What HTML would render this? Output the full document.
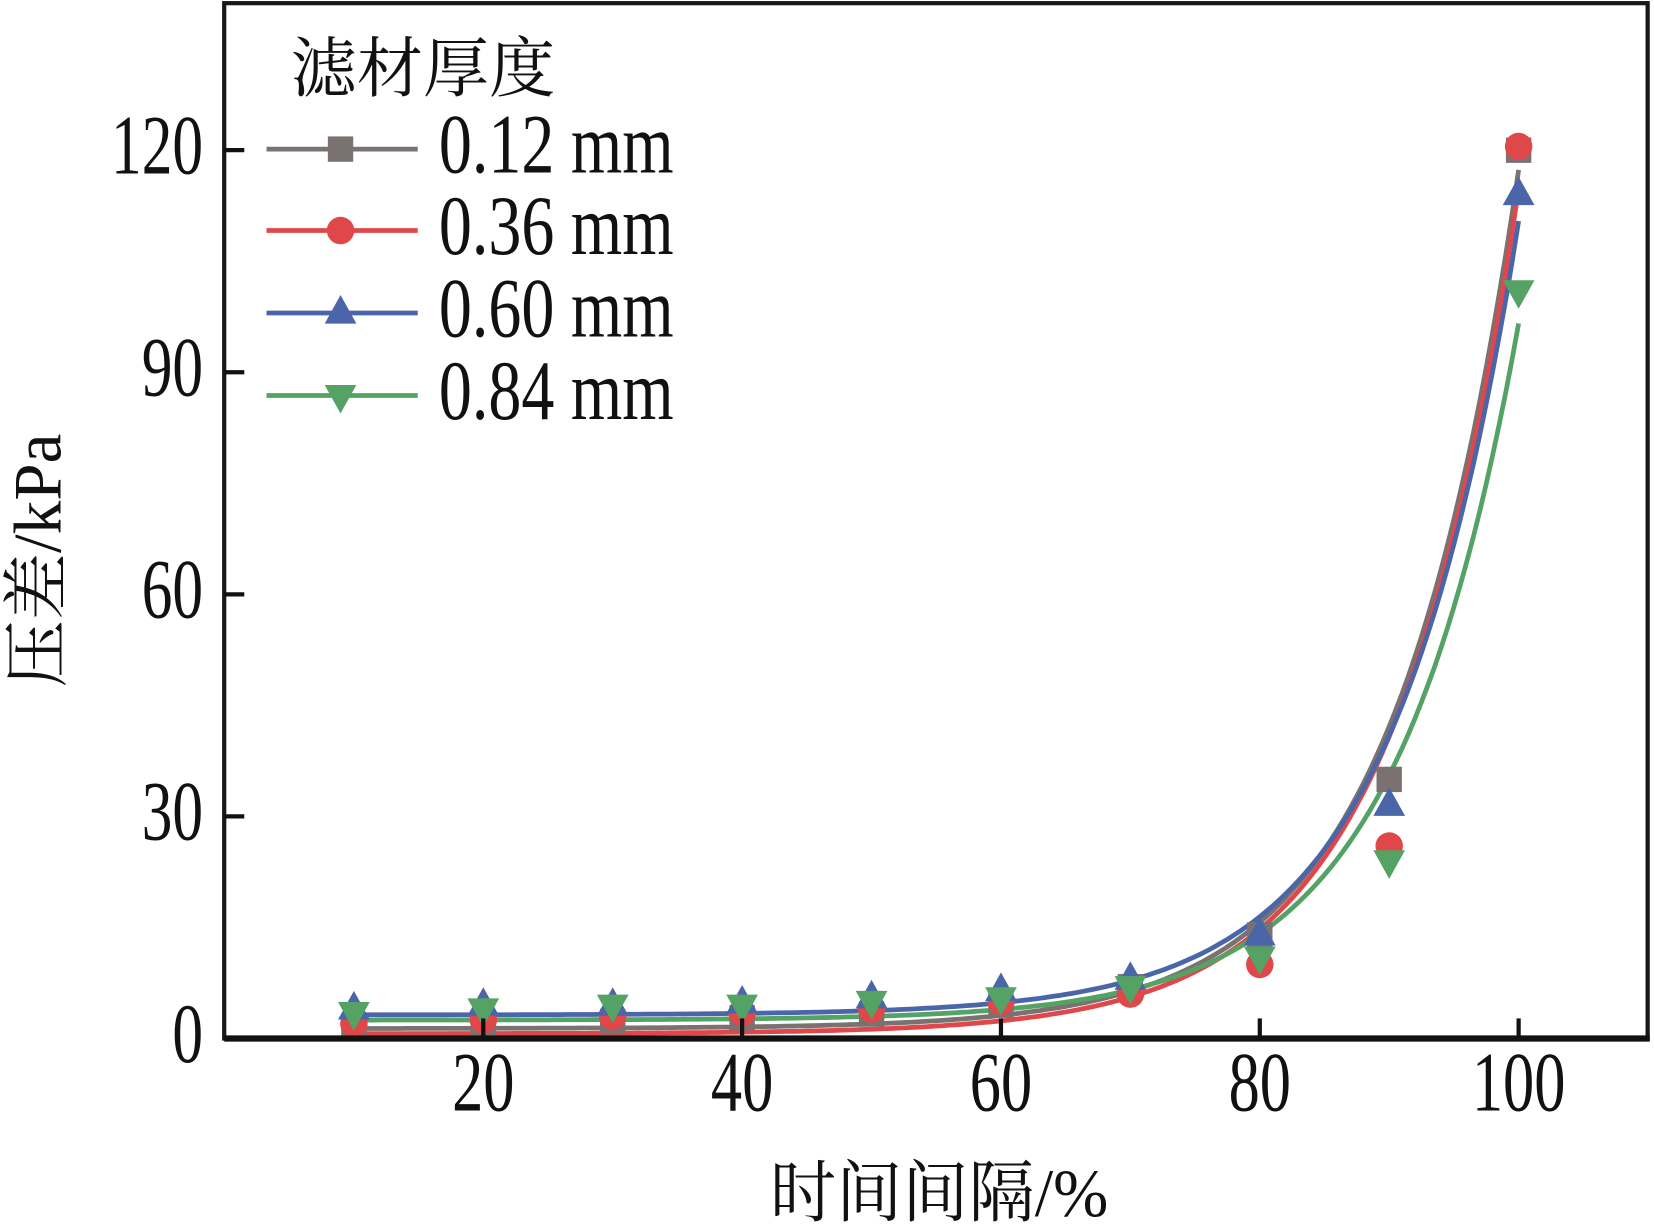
<!DOCTYPE html>
<html><head><meta charset="utf-8"><style>
html,body{margin:0;padding:0;background:#fff;}
svg{display:block;}
text{font-family:"Liberation Serif","Noto Serif CJK SC",serif;fill:#111;}
</style></head><body>
<svg id="chart" width="1654" height="1230" viewBox="0 0 1654 1230" xmlns="http://www.w3.org/2000/svg">
<g id="root" transform="scale(1.05754)"></g>
</svg>
<script>
const categories = [10, 20, 30, 40, 50, 60, 70, 80, 90, 100];
const seriesNames = ["0.12 mm", "0.36 mm", "0.60 mm", "0.84 mm"];
const s012 = [1.5, 2.0, 2.3, 2.8, 3.3, 4.5, 7.0, 14.0, 35.0, 120.0];
const s036 = [2.0, 2.5, 3.0, 3.5, 4.0, 5.0, 6.0, 10.0, 26.0, 120.5];
const s060 = [4.0, 4.5, 4.5, 4.8, 5.5, 6.5, 8.0, 14.0, 31.5, 114.0];
const s084 = [3.5, 4.0, 4.5, 4.5, 5.0, 5.5, 7.0, 11.0, 24.0, 101.0];
const xTicks = [20, 40, 60, 80, 100];
const yTicks = [0, 30, 60, 90, 120];

const NS = "http://www.w3.org/2000/svg";
const root = document.getElementById("root");
const L = 212, R = 1558, T = 3, B = 982;
function sx(v){ return 457 + (v - 20) * (1436 - 457) / 80; }
function sy(v){ return 982 - v * (982 - 142) / 120; }
function mk(tag, attrs, parent){
  const e = document.createElementNS(NS, tag);
  for (const k in attrs) e.setAttribute(k, attrs[k]);
  (parent || root).appendChild(e);
  return e;
}
const colors = ["#7a7270", "#e0474a", "#4b66a8", "#55a265"];
const allSeries = [s012, s036, s060, s084];
const shapes = ["square", "circle", "up", "down"];

function marker(shape, x, y, color, parent){
  let e;
  if (shape === "square") e = mk("rect", {x: x-12, y: y-12, width: 24, height: 24, fill: color}, parent);
  else if (shape === "circle") e = mk("circle", {cx: x, cy: y, r: 13, fill: color}, parent);
  else if (shape === "up") e = mk("polygon", {points: `${x},${y-17} ${x+15},${y+10} ${x-15},${y+10}`, fill: color}, parent);
  else e = mk("polygon", {points: `${x-15},${y-10} ${x+15},${y-10} ${x},${y+17}`, fill: color}, parent);
  return e;
}

// fit y = a + b*exp(c*x)
function fit(xs, ys){
  let best = null;
  for (let c = 0.01; c <= 0.105; c += 0.0005){
    const f = xs.map(x => Math.exp(c*x));
    const n = xs.length;
    const mf = f.reduce((a,b)=>a+b,0)/n, my = ys.reduce((a,b)=>a+b,0)/n;
    let sxy=0, sxx=0;
    for (let i=0;i<n;i++){ sxy += (f[i]-mf)*(ys[i]-my); sxx += (f[i]-mf)*(f[i]-mf); }
    const b = sxy/sxx, a = my - b*mf;
    let err = 0;
    for (let i=0;i<n;i++){ const d = a + b*f[i] - ys[i]; err += d*d; }
    if (!best || err < best.err) best = {a, b, c, err};
  }
  return best;
}

const curves = mk("g", {});


allSeries.forEach((s, si) => {
  const p = fit(categories, s);
  let d = "";
  for (let x = categories[0]; x <= categories[categories.length-1] + 0.001; x += 0.5){
    const y = p.a + p.b*Math.exp(p.c*x);
    d += (d ? " L" : "M") + sx(x).toFixed(1) + "," + sy(y).toFixed(1);
  }
  const path = mk("path", {d, fill: "none", stroke: colors[si], "stroke-width": 4.5}, curves);
  
  
});
allSeries.forEach((s, si) => {
  const g = mk("g", {});
  
  
  s.forEach((v, i) => {
    const m = marker(shapes[si], sx(categories[i]), sy(v), colors[si], g);
    
    
  });
});

const frame = mk("rect", {x: L, y: T, width: R-L, height: B-T, fill: "none", stroke: "#1a1714", "stroke-width": 4});


const xAxis = mk("line", {x1: L, y1: B, x2: R+2, y2: B, stroke: "#111", "stroke-width": 6});



xTicks.forEach(v => {
  const t = mk("line", {x1: sx(v), y1: B, x2: sx(v), y2: B-19, stroke: "#111", "stroke-width": 4});
  
  
  const s = String(v);
  const lab = mk("text", {x: sx(v), y: 1050, "font-size": 80, "text-anchor": "middle", textLength: s.length*29.5, lengthAdjust: "spacingAndGlyphs"});
  lab.textContent = s;
  
  
});
yTicks.forEach(v => {
  const t = mk("line", {x1: L, y1: sy(v), x2: L+19, y2: sy(v), stroke: "#111", "stroke-width": 4});
  
  
  const s = String(v);
  const lab = mk("text", {x: 192, y: sy(v)+22, "font-size": 80, "text-anchor": "end", textLength: s.length*29, lengthAdjust: "spacingAndGlyphs"});
  lab.textContent = s;
  
  
});

const xt = mk("text", {x: 728, y: 1150, "font-size": 64, textLength: 320, lengthAdjust: "spacingAndGlyphs"});
xt.textContent = "时间间隔/%";


const yt = mk("text", {x: 0, y: 0, "font-size": 64, "text-anchor": "middle", textLength: 240, lengthAdjust: "spacingAndGlyphs", transform: "translate(57,530) rotate(-90)"});
yt.textContent = "压差/kPa";



const lg = mk("g", {});


const ttl = mk("text", {x: 275, y: 86, "font-size": 62, textLength: 250, lengthAdjust: "spacingAndGlyphs"}, lg);
ttl.textContent = "滤材厚度";


const ly = [141, 218, 296, 374];
seriesNames.forEach((n, i) => {
  const e = mk("g", {}, lg);
  
  
  mk("line", {x1: 252, y1: ly[i], x2: 395, y2: ly[i], stroke: colors[i], "stroke-width": 4.5}, e);
  marker(shapes[i], 322, ly[i], colors[i], e);
  const tx = mk("text", {x: 415, y: ly[i]+22, "font-size": 80, textLength: 222, lengthAdjust: "spacingAndGlyphs"}, e);
  tx.textContent = n;
});
</script>
</body></html>
